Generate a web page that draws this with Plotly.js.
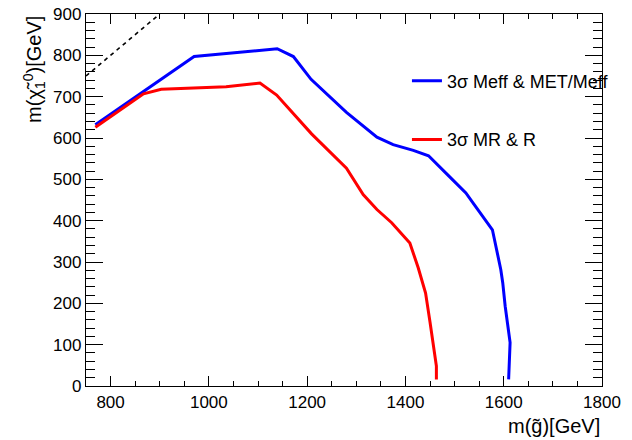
<!DOCTYPE html>
<html>
<head>
<meta charset="utf-8">
<script src="https://cdn.plot.ly/plotly-3.0.1.min.js"></script>
<style>html,body{margin:0;padding:0;background:#fff;}#chart{width:632px;height:440px;}</style>
</head>
<body>
<div id="chart"></div>
<script>
// Gluino mass [GeV] and neutralino mass [GeV] for the two 3-sigma contours
const meffX = [769, 970, 1139, 1172, 1208, 1280, 1342, 1375, 1416, 1447, 1485, 1523, 1540, 1577, 1594, 1598, 1603, 1611, 1613, 1610];
const meffY = [632, 797, 816, 797, 742, 662, 602, 584, 570, 557, 512, 467, 439, 378, 282, 250, 193, 129, 105, 16];
const mrX = [769, 867, 903, 1035, 1104, 1138, 1209, 1280, 1314, 1342, 1372, 1409, 1426, 1441, 1450, 1457, 1463, 1463];
const mrY = [626, 707, 718, 724, 733, 704, 610, 527, 463, 427, 395, 346, 286, 225, 155, 97, 48, 16];
const diagX = [750, 900];
const diagY = [750, 900];
const seriesNames = ['3σ Meff & MET/Meff', '3σ MR & R'];

const FONT = 'Liberation Sans, Arial, Helvetica, sans-serif';

const traces = [
  {x: diagX, y: diagY, mode: 'lines', line: {color: '#000', width: 1.6, dash: '4px,4px'}, showlegend: false, hoverinfo: 'skip'},
  {x: meffX, y: meffY, mode: 'lines', name: seriesNames[0], line: {color: '#0000ff', width: 3}, legend: 'legend'},
  {x: mrX, y: mrY, mode: 'lines', name: seriesNames[1], line: {color: '#ff0000', width: 3}, legend: 'legend2'}
];

const axisCommon = {
  showgrid: false, zeroline: false, showline: true, linecolor: '#000', linewidth: 1.2,
  mirror: 'ticks', ticks: 'inside', tickcolor: '#000', tickwidth: 1,
  tickfont: {family: FONT, size: 17, color: '#000'}
};

const layout = {
  width: 632, height: 440,
  margin: {l: 86, r: 30, t: 14, b: 54},
  paper_bgcolor: '#fff', plot_bgcolor: '#fff',
  font: {family: FONT, color: '#000'},
  xaxis: Object.assign({}, axisCommon, {
    range: [750, 1800], dtick: 200, ticklen: 10,
    minor: {dtick: 50, ticklen: 5, ticks: 'inside', tickcolor: '#000', tickwidth: 1}
  }),
  yaxis: Object.assign({}, axisCommon, {
    range: [0, 900], dtick: 100, ticklen: 17,
    minor: {dtick: 20, ticklen: 9, ticks: 'inside', tickcolor: '#000', tickwidth: 1}
  }),
  legend: {x: 0.622, xanchor: 'left', y: 0.82, yanchor: 'middle', bgcolor: 'rgba(0,0,0,0)', borderwidth: 0,
    font: {family: FONT, size: 18, color: '#000'}},
  legend2: {x: 0.622, xanchor: 'left', y: 0.662, yanchor: 'middle', bgcolor: 'rgba(0,0,0,0)', borderwidth: 0,
    font: {family: FONT, size: 18, color: '#000'}},
  annotations: [
    {text: 'm(g\u0303)[GeV]', xref: 'paper', yref: 'paper', x: 1, y: -0.108, xanchor: 'right', yanchor: 'middle',
     showarrow: false, font: {family: FONT, size: 20, color: '#000'}},
    {text: 'm(\u03C7\u0303<sub>1</sub><sup>0</sup>)[GeV]', xref: 'paper', yref: 'paper', x: -0.1, y: 1, xanchor: 'center', yanchor: 'top',
     textangle: -90, showarrow: false, font: {family: FONT, size: 20, color: '#000'}}
  ]
};

Plotly.newPlot('chart', traces, layout, {displayModeBar: false, staticPlot: true});
</script>
</body>
</html>
